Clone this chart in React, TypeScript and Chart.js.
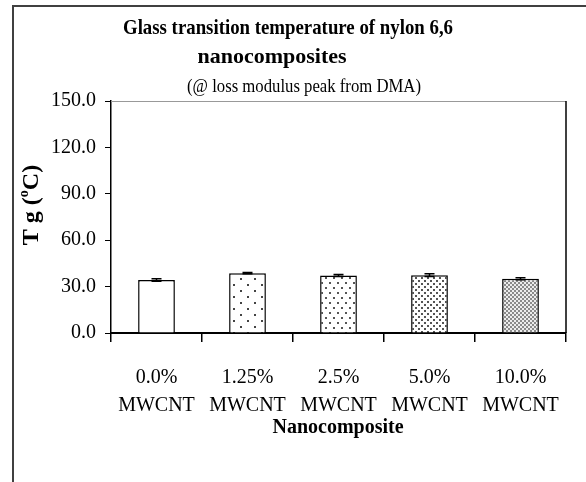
import React, { useEffect, useRef } from "react";
import { Chart, registerables } from "chart.js";

Chart.register(...registerables);

const categories: string[][] = [
  ["0.0%", "MWCNT"],
  ["1.25%", "MWCNT"],
  ["2.5%", "MWCNT"],
  ["5.0%", "MWCNT"],
  ["10.0%", "MWCNT"],
];
const tgValues: number[] = [34.3, 38.7, 37.2, 37.4, 35.1];
const tgErrors: number[] = [0.8, 0.4, 0.7, 0.9, 0.6];
const titleLines: string[] = ["Glass transition temperature of nylon 6,6", "nanocomposites"];
const subtitleText = "(@ loss modulus peak from DMA)";
const xTitle = "Nanocomposite";

const SERIF = '"Liberation Serif", "Times New Roman", serif';

function makePattern(
  w: number,
  h: number,
  bg: string,
  dotColor: string,
  dots: number[][],
  size: number
): CanvasPattern | string {
  const c = document.createElement("canvas");
  c.width = w;
  c.height = h;
  const ctx = c.getContext("2d");
  if (!ctx) return bg;
  ctx.fillStyle = bg;
  ctx.fillRect(0, 0, w, h);
  ctx.fillStyle = dotColor;
  dots.forEach(([x, y]) => ctx.fillRect(x, y, size, size));
  const p = ctx.createPattern(c, "repeat");
  return p || bg;
}

export default function App() {
  const ref = useRef<HTMLCanvasElement | null>(null);

  useEffect(() => {
    if (!ref.current) return;
    const fills = [
      "#ffffff",
      makePattern(14, 12, "#ffffff", "#444444", [[2, 2], [9, 8]], 2),
      makePattern(8, 10, "#ffffff", "#555555", [[1, 2], [5, 7]], 2),
      makePattern(6, 6, "#ffffff", "#555555", [[1, 1], [4, 4]], 2),
      makePattern(4, 4, "#ececec", "#8a8a8a", [[0, 0], [2, 2]], 2),
    ];

    const framePlugin = {
      id: "frame",
      beforeDraw(chart: any) {
        const ctx = chart.ctx;
        ctx.save();
        ctx.fillStyle = "#ffffff";
        ctx.fillRect(0, 0, chart.width, chart.height);
        ctx.strokeStyle = "#404040";
        ctx.lineWidth = 2;
        ctx.strokeRect(13, 6, 700, 700);
        ctx.restore();
      },
    };

    const decorPlugin = {
      id: "decor",
      afterDatasetsDraw(chart: any) {
        const ctx = chart.ctx;
        const a = chart.chartArea;
        const x = chart.scales.x;
        const y = chart.scales.y;
        ctx.save();
        ctx.strokeStyle = "#999999";
        ctx.lineWidth = 1;
        ctx.beginPath();
        ctx.moveTo(a.left, a.top + 0.5);
        ctx.lineTo(a.right, a.top + 0.5);
        ctx.stroke();
        ctx.strokeStyle = "#000000";
        ctx.lineWidth = 1.5;
        ctx.beginPath();
        ctx.moveTo(a.right, a.top);
        ctx.lineTo(a.right, a.bottom);
        ctx.stroke();
        ctx.lineWidth = 1.5;
        tgValues.forEach((v, i) => {
          const cx = x.getPixelForValue(i);
          const yt = y.getPixelForValue(v + tgErrors[i]);
          const yb = y.getPixelForValue(v - tgErrors[i]);
          ctx.beginPath();
          ctx.moveTo(cx, yt);
          ctx.lineTo(cx, yb);
          ctx.moveTo(cx - 5, yt);
          ctx.lineTo(cx + 5, yt);
          ctx.moveTo(cx - 5, yb);
          ctx.lineTo(cx + 5, yb);
          ctx.stroke();
        });
        ctx.restore();
      },
      afterDraw(chart: any) {
        const ctx = chart.ctx;
        ctx.save();
        ctx.fillStyle = "#000000";
        ctx.textAlign = "center";
        ctx.textBaseline = "middle";
        ctx.font = "bold 22px " + SERIF;
        ctx.fillText(titleLines[0], 288, 28, 330);
        ctx.fillText(titleLines[1], 272, 57);
        ctx.font = "18px " + SERIF;
        ctx.fillText(subtitleText, 304, 87, 234);
        ctx.font = "bold 20px " + SERIF;
        ctx.fillText(xTitle, 338, 428);

        const big = "bold 24px " + SERIF;
        const small = "bold 14px " + SERIF;
        const p1 = "T g (";
        const p2 = "o";
        const p3 = "C)";
        ctx.font = big;
        const w1 = ctx.measureText(p1).width;
        const w3 = ctx.measureText(p3).width;
        ctx.font = small;
        const w2 = ctx.measureText(p2).width;
        const total = w1 + w2 + w3;
        ctx.translate(30, 205);
        ctx.rotate(-Math.PI / 2);
        ctx.textAlign = "left";
        ctx.textBaseline = "alphabetic";
        let sx = -total / 2;
        ctx.font = big;
        ctx.fillText(p1, sx, 8);
        sx += w1;
        ctx.font = small;
        ctx.fillText(p2, sx, -2);
        sx += w2;
        ctx.font = big;
        ctx.fillText(p3, sx, 8);
        ctx.restore();
      },
    };

    const chart = new Chart(ref.current, {
      type: "bar",
      data: {
        labels: categories,
        datasets: [
          {
            data: tgValues,
            backgroundColor: fills as any,
            borderColor: "#000000",
            borderWidth: 1.5,
            borderSkipped: "bottom",
            categoryPercentage: 1,
            barPercentage: 0.404,
          },
        ],
      },
      options: {
        responsive: false,
        animation: false,
        layout: { padding: { left: 0, top: 101, right: 20, bottom: 0 } },
        plugins: {
          legend: { display: false },
          title: { display: false },
          tooltip: { enabled: false },
        },
        scales: {
          x: {
            type: "category",
            offset: true,
            afterFit: (s: any) => {
              s.height = 149;
            },
            grid: {
              offset: true,
              drawOnChartArea: false,
              drawTicks: true,
              tickLength: 9,
              color: "#000000",
              lineWidth: 1.5,
            },
            border: { display: true, color: "#000000", width: 2 },
            ticks: {
              color: "#000000",
              font: { family: SERIF, size: 20, lineHeight: 1.4 },
              padding: 22,
              autoSkip: false,
              maxRotation: 0,
            },
          },
          y: {
            min: 0,
            max: 150,
            afterFit: (s: any) => {
              s.width = 111;
            },
            grid: {
              drawOnChartArea: false,
              drawTicks: true,
              tickLength: 6,
              color: "#000000",
              lineWidth: 1,
            },
            border: { display: true, color: "#000000", width: 1.5 },
            ticks: {
              stepSize: 15,
              color: "#000000",
              font: { family: SERIF, size: 20 },
              padding: 9,
              callback: (v: any) => (Number(v) % 30 === 0 ? Number(v).toFixed(1) : ""),
            },
          },
        },
      },
      plugins: [framePlugin, decorPlugin],
    });
    return () => chart.destroy();
  }, []);

  return (
    <div style={{ position: "absolute", left: 0, top: 0, width: 586, height: 482 }}>
      <canvas ref={ref} width={586} height={482} style={{ display: "block", width: 586, height: 482 }} />
    </div>
  );
}
